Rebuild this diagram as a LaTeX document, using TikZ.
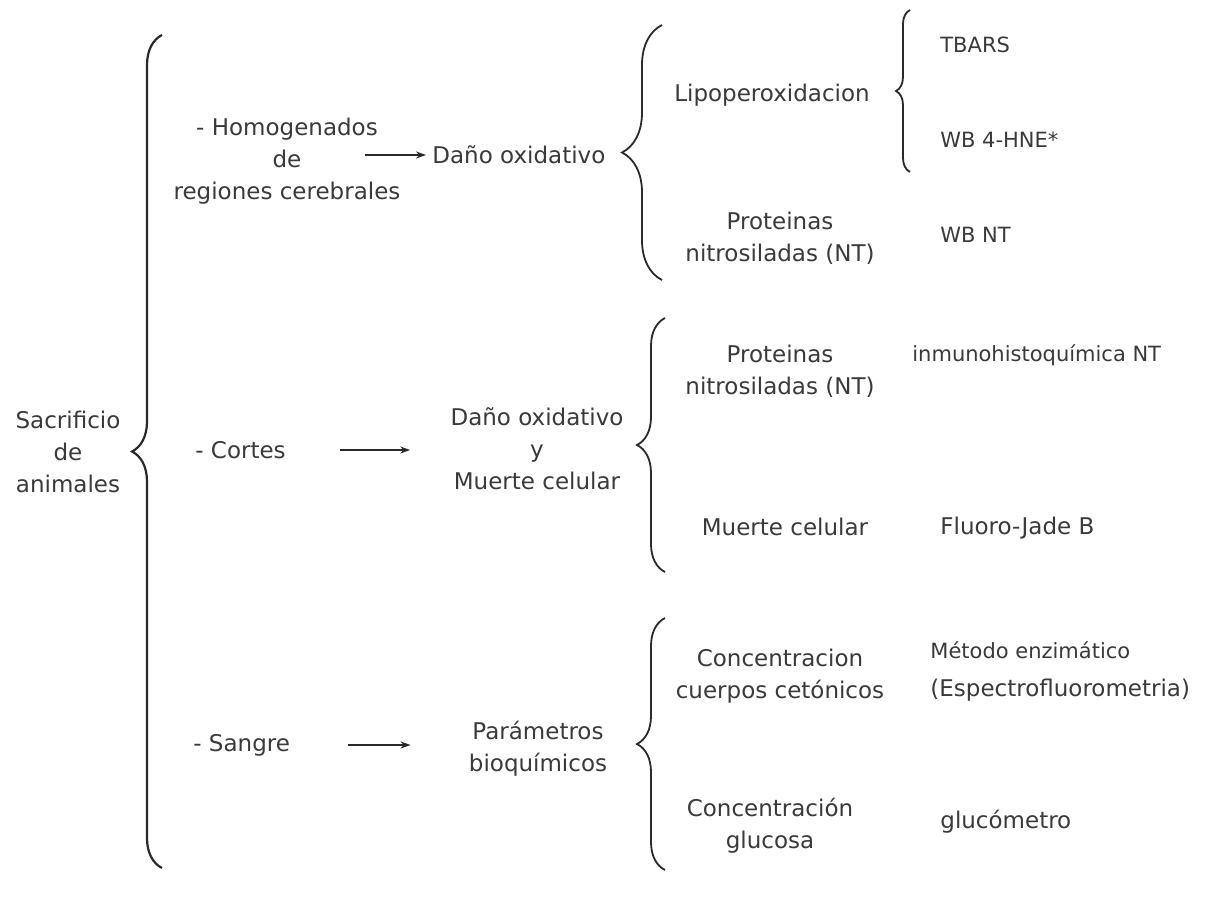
\documentclass[tikz,border=0pt]{standalone}
\usepackage{fontspec}
\setmainfont{DejaVu Sans}
\usetikzlibrary{decorations.pathreplacing,arrows.meta}
\definecolor{txtgray}{HTML}{3A3A3A}
\definecolor{lingray}{HTML}{2A2A2A}
\begin{document}
\begin{tikzpicture}[x=0.5pt,y=-0.5pt,
  txt/.style={text=txtgray,font=\fontsize{11.5}{16}\selectfont,align=center,inner sep=0pt},
  sm/.style={font=\fontsize{10.5}{14}\selectfont},
  lft/.style={anchor=west},
  arr/.style={draw=lingray,line width=0.6pt,-{Stealth[length=5pt,width=3.5pt]}},
  brc/.style={draw=lingray,line width=0.9pt,decorate,decoration={brace,amplitude=#1}}]
\fill[white] (0,0) rectangle (1206,900);
\useasboundingbox (0,0) rectangle (1206,900);

% column 1
\node[txt] (sac) at (68,452) {Sacrificio\\de\\animales};
% column 2
\node[txt] (homog) at (287,161) {- Homogenados\\de\\regiones cerebrales};
\node[txt,lft] (cortes) at (195,450) {- Cortes};
\node[txt,lft] (sangre) at (193,745) {- Sangre};
% column 3
\node[txt,lft] (dano1) at (432,155) {Daño oxidativo};
\node[txt] (dano2) at (537,449) {Daño oxidativo\\y\\Muerte celular};
\node[txt] (param) at (538,749) {Parámetros\\bioquímicos};
% column 4
\node[txt] (lipo) at (772,95) {Lipoperoxidacion};
\node[txt] (prot1) at (780,238) {Proteinas\\nitrosiladas (NT)};
\node[txt] (prot2) at (780,371) {Proteinas\\nitrosiladas (NT)};
\node[txt] (muerte) at (785,527) {Muerte celular};
\node[txt] (conc1) at (780,676) {Concentracion\\cuerpos cetónicos};
\node[txt] (conc2) at (770,826) {Concentración\\glucosa};
% column 5
\node[txt,sm,lft] (tbars) at (940,45) {TBARS};
\node[txt,sm,lft] (hne) at (940,140) {WB 4-HNE*};
\node[txt,sm,lft] (wbnt) at (940,235) {WB NT};
\node[txt,sm,lft] (inmuno) at (912,355) {inmunohistoquímica NT};
\node[txt,lft] (fluoro) at (940,528) {Fluoro-Jade B};
\node[txt,sm,lft] (metodo) at (930,650) {Método enzimático};
\node[txt,lft] (espectro) at (930,690) {(Espectrofluorometria)};
\node[txt,lft] (gluco) at (940,822) {glucómetro};

% arrows
\coordinate (a1) at (365,155);
\coordinate (a2) at (340,450);
\coordinate (a3) at (348,745);
\draw[arr,shorten >=3pt] (a1) -- (a1 -| dano1.west);
\draw[arr,shorten >=20pt] (a2) -- (a2 -| dano2.west);
\draw[arr,shorten >=29pt] (a3) -- (a3 -| param.west);

% braces
\coordinate (b1t) at (162,35);   \coordinate (b1b) at (162,868);
\coordinate (b2t) at (662,25);   \coordinate (b2b) at (662,280);
\coordinate (b3t) at (910,10);   \coordinate (b3b) at (910,172);
\coordinate (b4t) at (665,318);  \coordinate (b4b) at (665,572);
\coordinate (b5t) at (665,618);  \coordinate (b5b) at (665,870);
\draw[brc=15pt,line width=1.1pt] (b1b) -- (b1t);
\draw[brc=20pt] (b2b) -- (b2t);
\draw[brc=7pt] (b3b) -- (b3t);
\draw[brc=14pt] (b4b) -- (b4t);
\draw[brc=14pt] (b5b) -- (b5t);
\end{tikzpicture}
\end{document}
